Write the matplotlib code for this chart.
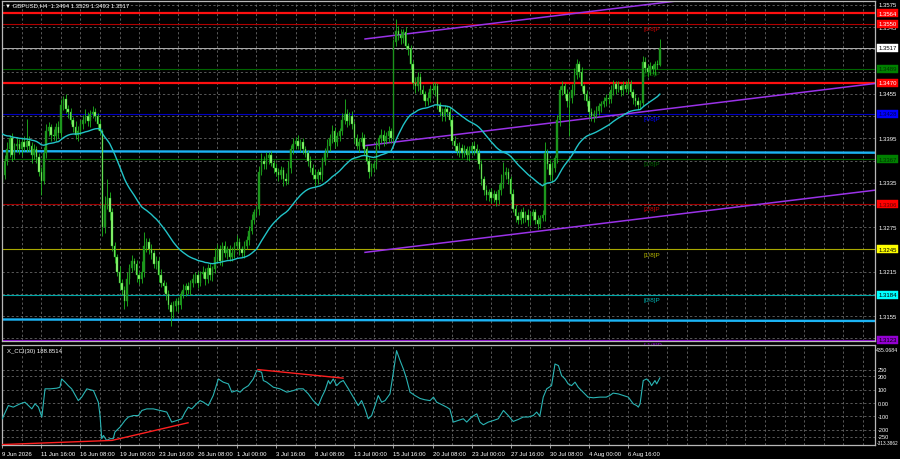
import matplotlib
matplotlib.use("Agg")
import matplotlib.pyplot as plt
import matplotlib.transforms as mtransforms
import numpy as np

plt.rcParams['font.family'] = ['Liberation Sans', 'DejaVu Sans']

# ---------------- DATA ----------------
BASE = 1.3000  # closes / wicks are in pips above this base
first_open_pips = 335
closes_pips = [
    345, 365, 380, 395, 372, 385, 388, 380, 390, 383,
    392, 385, 372, 380, 370, 350, 338, 375, 405, 410,
    400, 398, 410, 402, 440, 448, 435, 430, 420, 410,
    400, 405, 415, 420, 425, 418, 428, 430, 425, 415,
    405, 275, 305, 315, 295, 250, 235, 215, 200, 190,
    175, 205, 220, 230, 225, 210, 205, 215, 250, 255,
    245, 240, 225, 230, 210, 200, 195, 185, 170, 160,
    168, 175, 170, 185, 190, 195, 190, 200, 205, 210,
    200, 212, 215, 205, 220, 210, 218, 235, 245, 230,
    250, 240, 245, 235, 240, 250, 255, 245, 240, 250,
    258, 270, 285, 295, 300, 350, 365, 360, 368, 372,
    362, 355, 350, 345, 352, 340, 338, 355, 380, 388,
    392, 385, 390, 380, 375, 365, 355, 345, 340, 350,
    345, 365, 375, 385, 395, 405, 390, 398, 405, 420,
    428, 418, 425, 415, 395, 385, 390, 395, 380, 365,
    350, 355, 360, 385, 395, 400, 392, 398, 405, 395,
    525, 540, 535, 530, 538, 520, 515, 495, 470, 465,
    478, 460, 455, 445, 450, 462, 460, 465, 440, 430,
    425, 435, 430, 420, 392, 385, 378, 382, 375, 380,
    372, 378, 385, 380, 375, 360, 340, 325, 318, 322,
    315, 320, 312, 325, 335, 345, 350, 340, 320, 300,
    290, 285, 295, 288, 292, 285, 290, 295, 285, 280,
    288, 292, 375, 360, 345, 355, 368, 420, 460, 465,
    455, 445, 450, 460, 480, 495, 485, 465, 455, 445,
    430, 425, 428, 432, 438, 442, 445, 450, 448, 460,
    468, 462, 465, 460, 467, 462, 468, 458, 450, 445,
    440, 443, 498, 490, 485, 492, 488, 495, 494, 517,
]
hi_wick = [
    6, 8, 10, 5, 7, 4, 9, 6, 5, 8,
    29, 6, 5, 7, 4, 5, 6, 8, 10, 7,
    5, 8, 6, 9, 8, 4, 7, 5, 6, 4,
    8, 6, 5, 7, 9, 6, 5, 8, 6, 4,
    5, 3, 12, 25, 8, 6, 5, 4, 7, 5,
    6, 9, 5, 8, 4, 6, 5, 15, 18, 6,
    5, 7, 4, 6, 5, 8, 4, 6, 5, 4,
    7, 5, 6, 4, 8, 5, 6, 4, 7, 5,
    6, 4, 8, 5, 6, 7, 5, 12, 8, 6,
    5, 7, 4, 6, 8, 5, 10, 6, 4, 7,
    5, 6, 8, 5, 4, 7, 10, 6, 8, 5,
    6, 4, 7, 5, 6, 4, 8, 10, 6, 8,
    5, 7, 4, 6, 5, 4, 6, 5, 8, 4,
    6, 5, 7, 9, 6, 8, 5, 6, 4, 9,
    20, 6, 5, 7, 4, 6, 5, 8, 6, 4,
    5, 7, 4, 6, 5, 8, 6, 5, 7, 4,
    4, 16, 6, 8, 5, 7, 4, 6, 5, 8,
    6, 5, 7, 4, 8, 5, 9, 6, 5, 4,
    6, 5, 4, 7, 5, 6, 4, 8, 5, 6,
    4, 7, 5, 6, 8, 5, 6, 4, 7, 5,
    6, 5, 4, 8, 12, 18, 6, 5, 4, 7,
    5, 6, 4, 7, 5, 8, 6, 4, 5, 7,
    4, 6, 15, 5, 6, 8, 5, 7, 6, 8,
    5, 6, 7, 8, 10, 7, 5, 6, 4, 5,
    4, 6, 5, 7, 5, 4, 6, 5, 8, 7,
    6, 5, 8, 4, 6, 5, 7, 6, 4, 5,
    6, 4, 8, 7, 5, 6, 4, 5, 6, 12,
]
lo_wick = [
    8, 5, 6, 10, 7, 5, 8, 6, 9, 5,
    6, 7, 10, 5, 8, 6, 20, 5, 6, 7,
    8, 5, 7, 6, 5, 7, 6, 8, 5, 7,
    6, 8, 5, 7, 4, 6, 8, 5, 7, 9,
    6, 12, 8, 6, 10, 7, 8, 6, 9, 7,
    10, 6, 7, 5, 8, 9, 6, 5, 7, 8,
    6, 8, 5, 7, 9, 6, 7, 8, 6, 18,
    7, 6, 9, 5, 6, 8, 5, 7, 6, 5,
    7, 5, 6, 8, 5, 6, 7, 5, 8, 6,
    7, 5, 8, 6, 5, 7, 6, 8, 5, 6,
    5, 7, 4, 6, 5, 8, 5, 7, 6, 8,
    5, 7, 6, 8, 5, 9, 6, 5, 7, 6,
    7, 5, 8, 6, 5, 7, 6, 5, 9, 6,
    5, 8, 6, 5, 7, 6, 8, 5, 7, 6,
    6, 8, 5, 7, 6, 5, 8, 6, 7, 5,
    8, 6, 5, 7, 5, 6, 7, 5, 8, 6,
    5, 6, 7, 8, 6, 5, 7, 6, 8, 9,
    6, 5, 8, 7, 5, 6, 5, 8, 6, 5,
    7, 6, 5, 8, 6, 7, 5, 8, 6, 5,
    6, 8, 5, 7, 9, 6, 8, 7, 6, 8,
    7, 6, 8, 5, 6, 7, 5, 6, 8, 5,
    8, 6, 5, 7, 6, 8, 7, 5, 6, 7,
    6, 5, 8, 7, 6, 9, 5, 6, 8, 7,
    6, 8, 47, 7, 6, 5, 7, 6, 8, 6,
    7, 6, 8, 5, 6, 7, 5, 6, 7, 5,
    6, 7, 5, 8, 6, 5, 7, 6, 8, 7,
    6, 5, 4, 6, 7, 5, 6, 8, 5, 1,
]
ma_seed = 1.3404      # smoothed MA value at first visible bar
ma_period = 20

cci_bars = [0, 2.5, 4.5, 7.3, 9.3, 10.7, 12.1, 13.4, 14.8, 16.2, 17.5, 19.6, 22.3, 23.6,
            24.3, 25.7, 27.0, 28.4, 31.1, 32.5, 34.6, 37.3, 39.3, 40.0, 40.7, 41.4, 42.7,
            44.1, 45.4, 46.1, 48.2, 50.2, 51.6, 53.6, 55.7, 57.1, 59.1, 61.8, 64.5, 67.3,
            68.6, 69.3, 71.4, 73.4, 74.8, 76.1, 77.5, 79.5, 80.9, 82.3, 84.3, 86.3, 88.4,
            90.4, 92.5, 93.9, 95.9, 97.3, 98.6, 100.7, 102.7, 104.1, 106.1, 106.8, 108.2,
            110.9, 113.6, 116.4, 119.1, 121.1, 123.1, 125.2, 127.2, 129.3, 130.7, 132.0,
            133.4, 134.1, 135.4, 136.8, 138.2, 139.5, 141.6, 143.6, 145.6, 147.0, 148.4,
            149.7, 151.1, 152.5, 153.8, 155.2, 156.6, 158.6, 160.0, 161.3, 162.7, 164.2,
            165.4, 166.8, 168.8, 170.9, 172.9, 175.0, 176.4, 177.7, 179.1, 181.8, 183.1,
            184.5, 186.5, 188.6, 190.0, 192.0, 194.1, 195.4, 196.8, 198.8, 200.9, 202.9,
            205.0, 207.0, 209.0, 211.1, 213.1, 215.1, 217.2, 218.6, 219.9, 221.3, 222.7,
            224.7, 226.1, 227.5, 228.8, 230.2, 231.5, 232.9, 234.3, 235.6, 237.6, 239.6,
            241.8, 244.5, 247.1, 248.5, 249.9, 252.0, 254.0, 256.1, 258.1, 259.5, 260.2,
            260.9, 262.2, 263.6, 264.9, 265.6, 267.0, 267.7, 269.0]
cci_vals = [-117, -18, -30, -5, 7, -18, -43, -5, -30, -104, 107, 107, 112, 119,
            181, 157, 131, 107, 19, 45, 107, 94, 7, -93, -266, -242, -279,
            -266, -266, -216, -179, -130, -104, -93, -93, -55, -43, -43, -55, -67,
            -117, -142, -130, -117, -67, -30, -43, -5, 19, 7, -18, 57, 181,
            157, 144, 82, 94, 82, 107, 131, 181, 243, 231, 169, 157,
            119, 107, 82, 94, 107, 107, 69, 19, -18, 45, 94,
            169, 144, 181, 131, 157, 169, 107, 45, -18, 19, -43,
            -117, -93, -18, 57, 7, 19, 69, 231, 393, 320, 250,
            181, 82, 57, 35, 25, 19, 45, 7, -5, -30, -45,
            -142, -130, -117, -142, -104, -80, -142, -162, -142, -130, -117,
            -55, -93, -137, -122, -104, -104, -93, -67, -97, 45, 107,
            131, 293, 281, 206, 181, 144, 131, 157, 119, 82, 45,
            40, 45, 45, 57, 75, 69, 57, 45, -5, -18, -30,
            -5, 169, 181, 157, 131, 169, 144, 189]
cci_last = 188.8514
cci_ylim = (-313.3862, 435.0684)
cci_levels = [250, 200, 100, 0, -100, -200, -250]
cci_div1_bars = [0, 44.9, 76.0]
cci_div1_vals = [-310, -279, -147]
cci_div2_bars = [104.6, 139.4]
cci_div2_vals = [251, 187]

price_ylim = (1.312137, 1.358040)
grid_prices = [1.3575, 1.3545, 1.3515, 1.3485, 1.3455, 1.3425, 1.3395, 1.3365,
               1.3335, 1.3305, 1.3275, 1.3245, 1.3215, 1.3185, 1.3155, 1.3125]
murrey_prices = [1.3550, 1.3489, 1.3428, 1.3367, 1.3306, 1.3245, 1.3184, 1.3123]
murrey_names = ['[6/8]P', '[5/8]P', '[4/8]P', '[3/8]P', '[2/8]P', '[1/8]P', '[0/8]P', '[-1/8]P']
murrey_line_colors = ['#b00000', '#006400', '#0000c0', '#006400', '#a00000', '#a8a800', '#00a8a8', '#8a00d0']
murrey_box_colors = ['#ff0000', '#008000', '#0000ff', '#008000', '#ff0000', '#ffff00', '#00ffff', '#9400d3']
murrey_text_colors = ['#c00000', '#006400', '#0000ff', '#006400', '#d00000', '#b4b400', '#00b0b0', '#8a00d0']
murrey_box_text = ['#ffffff', '#003000', '#00004a', '#003000', '#600000', '#000000', '#000000', '#000000']
red_levels = [1.3564, 1.3470]
current_price = 1.3517
flat_line_bars = [0, 357]
flat_line_upper = [1.33776, 1.33756]
flat_line_lower = [1.31504, 1.31484]
chan_bars = [148.4, 356.9]
chan_mid = [1.33851, 1.34690]
chan_half = 0.014405
time_label_bars = [0, 16, 32, 48, 64, 80, 96, 112, 128, 144, 160, 176, 192, 208, 224, 240, 256]
time_labels = ['9 Jun 2026', '11 Jun 16:00', '16 Jun 08:00', '19 Jun 00:00', '23 Jun 16:00',
               '26 Jun 08:00', '1 Jul 00:00', '3 Jul 16:00', '8 Jul 08:00', '13 Jul 00:00',
               '15 Jul 16:00', '20 Jul 08:00', '23 Jul 00:00', '27 Jul 16:00', '30 Jul 08:00',
               '4 Aug 00:00', '6 Aug 16:00']
title_text = '\u25bc GBPUSD,H4  1.3494 1.3529 1.3493 1.3517'

# ---------------- FIGURE ----------------
W, H = 900, 460
fig = plt.figure(figsize=(W / 100, H / 100), dpi=100, facecolor='black')
ax1 = fig.add_axes([2 / W, 1 - 342 / H, 873 / W, 340 / H], facecolor='black')
ax2 = fig.add_axes([2 / W, 14 / H, 873 / W, 100 / H], facecolor='black')
XLIM = (-0.1, 357.0)
for ax in (ax1, ax2):
    ax.set_xlim(*XLIM)
    for s in ax.spines.values():
        s.set_color('#b8b8b8')
        s.set_linewidth(0.9)
    ax.set_yticks([])
    for gb in range(8, 357, 8):
        ax.axvline(gb, color='#6f6f6f', lw=0.55, ls=(0, (3, 3)), zorder=0.5)
ax1.set_xticks([])
ax1.set_ylim(*price_ylim)
ax2.set_ylim(*cci_ylim)

gridc = '#6f6f6f'
for gp in grid_prices:
    ax1.axhline(gp, color=gridc, lw=0.55, ls=(0, (3, 3)), zorder=0.5)
for lv in cci_levels:
    ax2.axhline(lv, color=gridc, lw=0.55, ls=(0, (3, 3)), zorder=0.5)

# horizontal levels
for p, lc in zip(murrey_prices, murrey_line_colors):
    ax1.axhline(p, color=lc, lw=0.8, zorder=1)
ax1.axhline(current_price, color='#b0b0b0', lw=0.7, zorder=1)
for p in red_levels:
    ax1.axhline(p, color='#ff1010', lw=1.6, zorder=1.2)
ax1.plot(flat_line_bars, flat_line_upper, color='#1cb4f4', lw=1.7, zorder=1.3)
ax1.plot(flat_line_bars, flat_line_lower, color='#1cb4f4', lw=1.7, zorder=1.3)

# regression channel
cb = np.array(chan_bars)
cm = np.array(chan_mid)
for off in (-chan_half, 0.0, chan_half):
    ax1.plot(cb, cm + off, color='#9a32e8', lw=1.1, zorder=1.4)

# murrey labels in plot
for p, name, tc in zip(murrey_prices, murrey_names, murrey_text_colors):
    ax1.text(262.2, p - 0.0003, name, color=tc, fontsize=4.6, va='top', ha='left', zorder=1.5)

# candles
closes = BASE + np.array(closes_pips) / 10000.0
opens = np.concatenate([[BASE + first_open_pips / 10000.0], closes[:-1]])
highs = np.maximum(opens, closes) + np.array(hi_wick) / 10000.0
lows = np.minimum(opens, closes) - np.array(lo_wick) / 10000.0
xb = np.arange(len(closes))
bull = closes >= opens
ax1.vlines(xb, lows, highs, color='#1fb81f', lw=0.6, zorder=2)
bottoms = np.minimum(opens, closes)
heights = np.maximum(np.abs(closes - opens), 0.00006)
ax1.bar(xb[bull], heights[bull], bottom=bottoms[bull], width=0.62,
        color='#1e9a1e', edgecolor='#1a8a1a', lw=0.3, zorder=2.2)
ax1.bar(xb[~bull], heights[~bull], bottom=bottoms[~bull], width=0.62,
        color='#98ff78', edgecolor='#22aa22', lw=0.3, zorder=2.2)

# smoothed moving average (20)
ma = np.empty(len(closes))
prev = ma_seed
for i, c in enumerate(closes):
    prev = (prev * (ma_period - 1) + c) / ma_period
    ma[i] = prev
ax1.plot(xb, ma, color='#22c4c8', lw=1.0, zorder=3)

# right side price labels
tr1 = mtransforms.blended_transform_factory(ax1.transAxes, ax1.transData)
box_items = [(red_levels[0], '#ff0000', '#ffffff')]
box_items += [(p, bc, tc) for p, bc, tc in zip(murrey_prices, murrey_box_colors, murrey_box_text)]
box_items += [(current_price, '#ffffff', '#000000'), (red_levels[1], '#ff0000', '#ffffff')]
box_prices = [b[0] for b in box_items]
for gp in grid_prices:
    if min(abs(gp - bp) for bp in box_prices) < 0.00045:
        continue  # hidden behind a level box
    ax1.text(1.0035, gp, f'{gp:.4f}', transform=tr1, color='white', fontsize=4.3,
             va='center', ha='left', clip_on=False, zorder=5)
for p, bc, tc in box_items:
    ax1.text(1.0035, p, f'{p:.4f}', transform=tr1, color=tc, fontsize=4.3, va='center',
             ha='left', clip_on=False, zorder=6,
             bbox=dict(boxstyle='square,pad=0.25', fc=bc, ec=bc, lw=0.3))

fig.text(5 / W, 1 - 6 / H, title_text, color='white', fontsize=4.3, va='center', ha='left')

# CCI panel
ax2.plot(cci_bars, cci_vals, color='#2ab4b4', lw=0.8, zorder=3)
ax2.plot(cci_div1_bars, cci_div1_vals, color='#ff2020', lw=1.0, zorder=3.2)
ax2.plot(cci_div2_bars, cci_div2_vals, color='#ff2020', lw=1.0, zorder=3.2)
ax2.text(0.006, 0.97, f'X_CCI(30) {cci_last:.4f}', transform=ax2.transAxes, color='white',
         fontsize=4.3, va='top', ha='left')
tr2 = mtransforms.blended_transform_factory(ax2.transAxes, ax2.transData)
for lv in cci_levels:
    lab = '0.00' if lv == 0 else str(lv)
    ax2.text(1.0035, lv, lab, transform=tr2, color='white', fontsize=4.1, va='center',
             ha='left', clip_on=False)
ax2.text(1.0015, 0.975, f'{cci_ylim[1]:.4f}', transform=ax2.transAxes, color='white',
         fontsize=3.8, va='top', ha='left', clip_on=False)
ax2.text(1.0015, 0.0, f'{cci_ylim[0]:.4f}', transform=ax2.transAxes, color='white',
         fontsize=3.4, va='bottom', ha='left', clip_on=False)

ax2.set_xticks(time_label_bars)
ax2.set_xticklabels(time_labels)
ax2.tick_params(axis='x', length=2.5, width=0.6, color='#b8b8b8', labelsize=4.3,
                labelcolor='white', pad=1.5)
for lbl in ax2.get_xticklabels():
    lbl.set_ha('left')

fig.savefig('out.png', dpi=100, facecolor='black')
